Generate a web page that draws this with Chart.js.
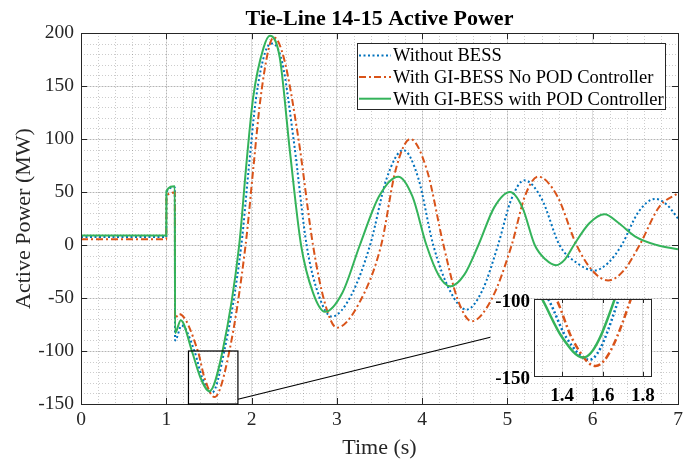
<!DOCTYPE html>
<html>
<head>
<meta charset="utf-8">
<title>Tie-Line 14-15 Active Power</title>
<script src="https://cdn.jsdelivr.net/npm/chart.js@4.4.1/dist/chart.umd.min.js"></script>
<style>
  html, body { margin: 0; padding: 0; background: #fff; }
  #wrap { position: relative; width: 694px; height: 464px; }
  #main { position: absolute; left: 0; top: 0; }
  #inset { position: absolute; left: 470px; top: 280px; }
</style>
</head>
<body>
<div id="wrap">
  <canvas id="main" width="694" height="464"></canvas>
  <canvas id="inset" width="215" height="135"></canvas>
</div>
<script>
// Tie-line 14-15 active power (MW) against time (s), three cases
const tNoBess = [0, 1.0, 1.002, 1.1, 1.103, 1.18, 1.33, 1.42, 1.535, 1.68, 1.88, 1.97, 2.05, 2.16, 2.245, 2.36, 2.5, 2.645,
  2.79, 2.94, 3.165, 3.39, 3.585, 3.78, 3.955, 4.13, 4.325, 4.52, 4.705, 4.89, 5.045, 5.2, 5.405, 5.61,
  5.815, 6.02, 6.18, 6.34, 6.535, 6.73, 6.87, 7.0];
const pNoBess = [7.5, 7.5, 50, 54.5, -90, -76, -100, -125, -139.5, -100, 0, 75, 137, 182, 190, 172, 95, 0,
  -48, -67.5, -48, 0, 63, 89.5, 63, 0, -43, -61, -43, 0, 43, 61, 43, 0,
  -17, -24, -17, 0, 31, 43.5, 38, 25];

const tNoPod = [0, 1.0, 1.002, 1.1, 1.103, 1.15, 1.37, 1.45, 1.565, 1.74, 1.93, 2.02, 2.1, 2.2, 2.26, 2.38, 2.55, 2.72,
  2.86, 3.0, 3.26, 3.52, 3.69, 3.86, 4.055, 4.25, 4.415, 4.58, 4.815, 5.05, 5.205, 5.36, 5.585, 5.81,
  5.995, 6.18, 6.365, 6.55, 6.78, 7.0];
const pNoPod = [5.4, 5.4, 46, 49.5, -69, -65, -100, -126, -143.5, -100, 0, 72, 135, 185, 196, 176, 100, 0,
  -55, -78, -55, 0, 71, 100, 71, 0, -51, -72, -51, 0, 46, 64.5, 46, 0,
  -24, -33.5, -24, 0, 36, 49];

const tPod = [0, 1.0, 1.002, 1.1, 1.103, 1.17, 1.30, 1.40, 1.505, 1.66, 1.855, 1.94, 2.02, 2.14, 2.215, 2.33, 2.45, 2.58,
  2.72, 2.86, 3.065, 3.27, 3.495, 3.72, 3.885, 4.05, 4.19, 4.33, 4.495, 4.66, 4.845, 5.03, 5.175, 5.32,
  5.445, 5.57, 5.675, 5.78, 5.96, 6.14, 6.3, 6.5, 6.75, 7.0];
const pPod = [9, 9, 51, 55.5, -83, -71, -100, -125, -138, -100, 0, 77, 140, 186, 197.5, 177, 88, 0,
  -45, -63, -45, 0, 46, 64.5, 46, 0, -28, -39, -28, 0, 35.5, 50, 35.5, 0,
  -13.5, -19, -13.5, 0, 20.5, 29, 21, 8, 0, -4];

const xTicks = [0, 1, 2, 3, 4, 5, 6, 7];
const yTicks = [-150, -100, -50, 0, 50, 100, 150, 200];
const insetXTicks = [1.4, 1.6, 1.8];
const insetYTicks = [-150, -100];

// zoomed window around the first swing, and where its pointer line ends
const zoomX = [1.26, 1.84];
const zoomY = [-150, -100];
const zoomLinkTo = [4.8, -87];

const SERIF = '"Liberation Serif", "Times New Roman", serif';
const INK = '#262626';
const GRID = 'rgba(0,0,0,0.12)';
const MINOR = 'rgba(0,0,0,0.2)';

const series = [
  { label: 'Without BESS', t: tNoBess, p: pNoBess, color: '#0072BD', dash: [2, 2.5], order: 3 },
  { label: 'With GI-BESS No POD Controller', t: tNoPod, p: pNoPod, color: '#D95319', dash: [7, 3, 2, 3], order: 2 },
  { label: 'With GI-BESS with POD Controller', t: tPod, p: pPod, color: '#34B35A', dash: [], order: 1 }
];

function buildDatasets(width) {
  return series.map(s => ({
    label: s.label,
    data: s.t.map((t, i) => ({ x: t, y: s.p[i] })),
    borderColor: s.color,
    borderDash: s.dash,
    borderWidth: width,
    borderCapStyle: 'butt',
    pointRadius: 0,
    cubicInterpolationMode: 'monotone',
    fill: false,
    order: s.order
  }));
}

function setTicks(values) {
  return scale => { scale.ticks = values.map(v => ({ value: v })); };
}

function px(v) { return Math.round(v) + 0.5; }

// dotted minor grid between the major lines
function drawMinorGrid(chart, xStep, yStep) {
  const { ctx, chartArea: a, scales: { x, y } } = chart;
  ctx.save();
  ctx.strokeStyle = MINOR;
  ctx.lineWidth = 1;
  ctx.setLineDash([1, 2]);
  ctx.beginPath();
  for (let k = Math.ceil(x.min / xStep - 1e-6); k * xStep < x.max - 1e-6; k++) {
    const X = px(x.getPixelForValue(k * xStep));
    if (X <= a.left + 1) continue;
    ctx.moveTo(X, a.top); ctx.lineTo(X, a.bottom);
  }
  for (let k = Math.ceil(y.min / yStep - 1e-6); k * yStep < y.max - 1e-6; k++) {
    const Y = px(y.getPixelForValue(k * yStep));
    if (Y >= a.bottom - 1) continue;
    ctx.moveTo(a.left, Y); ctx.lineTo(a.right, Y);
  }
  ctx.stroke();
  ctx.restore();
}

// box round the axes with inward tick marks on all four sides
function drawFrame(chart, xt, yt, len) {
  const { ctx, chartArea: a, scales: { x, y } } = chart;
  ctx.save();
  ctx.strokeStyle = INK;
  ctx.lineWidth = 1;
  ctx.setLineDash([]);
  ctx.beginPath();
  xt.forEach(v => {
    const X = px(x.getPixelForValue(v));
    ctx.moveTo(X, a.bottom); ctx.lineTo(X, a.bottom - len);
    ctx.moveTo(X, a.top); ctx.lineTo(X, a.top + len);
  });
  yt.forEach(v => {
    const Y = px(y.getPixelForValue(v));
    ctx.moveTo(a.left, Y); ctx.lineTo(a.left + len, Y);
    ctx.moveTo(a.right, Y); ctx.lineTo(a.right - len, Y);
  });
  ctx.stroke();
  ctx.strokeRect(px(a.left), px(a.top), Math.round(a.right) - Math.round(a.left), Math.round(a.bottom) - Math.round(a.top));
  ctx.restore();
}

const mainDecor = {
  id: 'mainDecor',
  beforeDatasetsDraw(chart) { drawMinorGrid(chart, 0.2, 10); },
  afterDraw(chart) {
    const { ctx, chartArea: a, scales: { x, y } } = chart;
    drawFrame(chart, xTicks, yTicks, 6);

    // title, centred over the axes
    ctx.save();
    ctx.fillStyle = '#000';
    ctx.font = 'bold 22px ' + SERIF;
    ctx.textAlign = 'center';
    ctx.textBaseline = 'alphabetic';
    ctx.fillText('Tie-Line 14-15 Active Power', (a.left + a.right) / 2, 25);

    // zoom window and pointer line
    ctx.strokeStyle = '#000';
    ctx.lineWidth = 1.2;
    const x0 = x.getPixelForValue(zoomX[0]), x1 = x.getPixelForValue(zoomX[1]);
    const y0 = y.getPixelForValue(zoomY[0]), y1 = y.getPixelForValue(zoomY[1]);
    ctx.strokeRect(x0, y1, x1 - x0, y0 - y1);
    ctx.beginPath();
    ctx.moveTo(x1, y.getPixelForValue(-145.5));
    ctx.lineTo(x.getPixelForValue(zoomLinkTo[0]), y.getPixelForValue(zoomLinkTo[1]));
    ctx.stroke();

    // legend box in the upper right
    const lx = 357, ly = 43, lw = 308, lh = 66;
    ctx.fillStyle = '#fff';
    ctx.fillRect(lx, ly, lw, lh);
    ctx.strokeStyle = INK;
    ctx.lineWidth = 1;
    ctx.strokeRect(px(lx), px(ly), lw, lh);
    ctx.font = '18.5px ' + SERIF;
    ctx.textAlign = 'left';
    ctx.textBaseline = 'middle';
    series.forEach((s, i) => {
      const cy = ly + 12.5 + i * 21.6;
      ctx.strokeStyle = s.color;
      ctx.lineWidth = 2;
      ctx.setLineDash(s.dash);
      ctx.beginPath();
      ctx.moveTo(lx + 2, cy); ctx.lineTo(lx + 34, cy);
      ctx.stroke();
      ctx.setLineDash([]);
      ctx.fillStyle = '#000';
      ctx.fillText(s.label, lx + 36, cy + 1);
    });
    ctx.restore();
  }
};

const insetDecor = {
  id: 'insetDecor',
  beforeDraw(chart) {
    const { ctx, chartArea: a } = chart;
    ctx.save();
    ctx.fillStyle = '#fff';
    ctx.fillRect(a.left, a.top, a.right - a.left, a.bottom - a.top);
    ctx.restore();
  },
  beforeDatasetsDraw(chart) { drawMinorGrid(chart, 0.1, 10); },
  afterDraw(chart) { drawFrame(chart, insetXTicks, insetYTicks, 4); }
};

const tickFont = { family: SERIF, size: 19.5 };
const titleFont = { family: SERIF, size: 22 };

new Chart(document.getElementById('main'), {
  type: 'line',
  data: { datasets: buildDatasets(2) },
  options: {
    responsive: false,
    animation: false,
    events: [],
    layout: { padding: { top: 33, right: 16, bottom: 0, left: 0 } },
    plugins: { legend: { display: false }, tooltip: { enabled: false }, title: { display: false } },
    scales: {
      x: {
        type: 'linear', min: 0, max: 7,
        afterBuildTicks: setTicks(xTicks),
        afterFit: s => { s.height = 60; },
        grid: { color: GRID, drawTicks: false },
        border: { display: false },
        ticks: { font: tickFont, color: INK, padding: 4, maxRotation: 0, autoSkip: false },
        title: { display: true, text: 'Time (s)', font: titleFont, color: INK, padding: { top: 0, bottom: 3 } }
      },
      y: {
        type: 'linear', min: -150, max: 200,
        afterBuildTicks: setTicks(yTicks),
        afterFit: s => { s.width = 81; },
        grid: { color: GRID, drawTicks: false },
        border: { display: false },
        ticks: { font: tickFont, color: INK, padding: 7, autoSkip: false },
        title: { display: true, text: 'Active Power (MW)', font: titleFont, color: INK, padding: { top: 11, bottom: 0 } }
      }
    }
  },
  plugins: [mainDecor]
});

const insetFont = { family: SERIF, size: 19, weight: 'bold' };

new Chart(document.getElementById('inset'), {
  type: 'line',
  data: { datasets: buildDatasets(2.5) },
  options: {
    responsive: false,
    animation: false,
    events: [],
    layout: { padding: { top: 19, right: 34, bottom: 0, left: 0 } },
    plugins: { legend: { display: false }, tooltip: { enabled: false }, title: { display: false } },
    scales: {
      x: {
        type: 'linear', min: zoomX[0], max: zoomX[1],
        afterBuildTicks: setTicks(insetXTicks),
        afterFit: s => { s.height = 39; },
        grid: { color: GRID, drawTicks: false },
        border: { display: false },
        ticks: { font: insetFont, color: '#000', padding: 9, maxRotation: 0, autoSkip: false }
      },
      y: {
        type: 'linear', min: zoomY[0], max: zoomY[1],
        afterBuildTicks: setTicks(insetYTicks),
        afterFit: s => { s.width = 64; },
        grid: { color: GRID, drawTicks: false },
        border: { display: false },
        ticks: { font: insetFont, color: '#000', padding: 4, labelOffset: 3, autoSkip: false }
      }
    }
  },
  plugins: [insetDecor]
});
</script>
</body>
</html>
